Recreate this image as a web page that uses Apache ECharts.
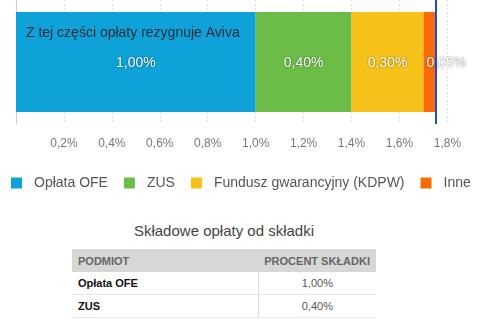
<!DOCTYPE html>
<html>
<head>
<meta charset="utf-8">
<script src="https://cdn.jsdelivr.net/npm/echarts@6/dist/echarts.min.js"></script>
<style>
  body{margin:0;background:#fff;font-family:"Liberation Sans",Arial,sans-serif;}
  #wrap{position:relative;width:480px;height:320px;overflow:hidden;}
  #chart{position:absolute;left:0;top:0;width:512px;height:205px;}
  #title{position:absolute;left:72px;width:304px;top:222px;text-align:center;font-size:15px;color:#444;}
  table{position:absolute;left:72px;top:249px;width:304px;border-collapse:collapse;font-size:11px;}
  th{background:#d7d7d7;color:#666;font-weight:bold;height:23px;padding:0 6px;text-align:left;white-space:nowrap;}
  th.r{text-align:right;}
  td{height:22px;border-bottom:1px solid #e6e6e6;padding:0 6px;}
  td.n{font-weight:bold;color:#111;width:174px;}
  td.v{text-align:center;color:#555;border-left:1px solid #ddd;}
</style>
</head>
<body>
<div id="wrap">
  <div id="chart"></div>
  <div id="title">Składowe opłaty od składki</div>
  <table id="tbl">
    <tr><th>PODMIOT</th><th class="r">PROCENT SKŁADKI</th></tr>
  </table>
</div>
<script>
var categories = ['Składka'];
var seriesNames = ['Opłata OFE', 'ZUS', 'Fundusz gwarancyjny (KDPW)', 'Inne'];
var seriesValues = [1.00, 0.40, 0.30, 0.05];
var tableNames = ['Opłata OFE', 'ZUS'];
var tableValues = ['1,00%', '0,40%'];
var colors = ['#0ea2d8', '#6cbd47', '#f6c21a', '#f96a08'];

function pct(v, d){ return v.toFixed(d).replace('.', ',') + '%'; }

var total = 0;
for (var i = 0; i < seriesValues.length; i++) total += seriesValues[i];

var series = [];
for (var i = 0; i < seriesNames.length; i++) {
  var last = i == seriesNames.length - 1;
  var s = {
    name: seriesNames[i],
    type: 'bar',
    stack: 'all',
    barWidth: 100,
    itemStyle: {color: colors[i]},
    label: {
      show: true,
      position: last ? 'insideLeft' : 'inside',
      distance: 3,
      offset: [0, 1],
      color: '#fff',
      fontSize: 14,
      fontFamily: 'Liberation Sans',
      textShadowColor: 'rgba(0,0,0,0.6)',
      textShadowBlur: 2,
      formatter: function(p){ return pct(p.value, 2); }
    },
    data: [seriesValues[i]]
  };
  if (last) {
    s.markLine = {
      silent: true,
      symbol: 'none',
      label: {show: false},
      lineStyle: {color: '#1f4fc4', width: 2, type: 'solid'},
      data: [{xAxis: total}]
    };
  }
  series.push(s);
}

// chart div is wider than the page: the 2,0% end of the axis falls outside
var myChart = echarts.init(document.getElementById('chart'));
myChart.setOption({
  animation: false,
  color: colors,
  grid: {left: 16, top: 0, right: 16, height: 124},
  legend: {
    left: 6, top: 171,
    itemWidth: 11, itemHeight: 11, itemGap: 16,
    icon: 'rect',
    textStyle: {fontSize: 14, color: '#555', fontFamily: 'Liberation Sans', padding: [0, 0, 0, 7]},
    data: seriesNames
  },
  xAxis: {
    type: 'value', min: 0, max: 2, interval: 0.2,
    axisLine: {show: false}, axisTick: {show: false},
    splitLine: {lineStyle: {color: '#e2e2e2', type: [2, 2]}},
    axisLabel: {
      margin: 14, fontSize: 12, color: '#777', fontFamily: 'Liberation Sans',
      formatter: function(v){ return v == 0 ? '' : pct(v, 1); }
    }
  },
  yAxis: {
    type: 'category', data: categories,
    axisLine: {show: true, lineStyle: {color: '#ccc'}},
    axisTick: {show: false}, axisLabel: {show: false}
  },
  graphic: [{
    type: 'text', left: 26, top: 26, z: 100,
    style: {text: 'Z tej części opłaty rezygnuje Aviva', fontSize: 14, fill: '#1b2a38', fontFamily: 'Liberation Sans'}
  }],
  series: series
});

var tbl = document.getElementById('tbl');
for (var i = 0; i < tableNames.length; i++) {
  var tr = document.createElement('tr');
  tr.innerHTML = '<td class="n">' + tableNames[i] + '</td><td class="v">' + tableValues[i] + '</td>';
  tbl.appendChild(tr);
}
</script>
</body>
</html>
